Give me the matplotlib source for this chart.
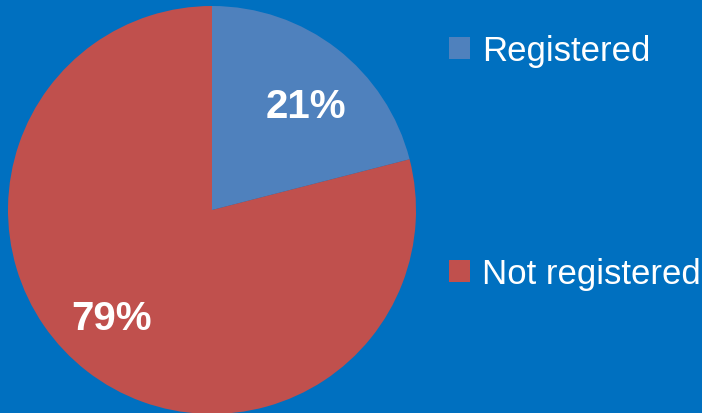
import matplotlib.pyplot as plt
from matplotlib import font_manager

# ---------------- Data ----------------
labels = ["Registered", "Not registered"]
shares = [21, 79]
colors = ["#4F81BD", "#C0504D"]
bg = "#0070C0"

names = {f.name for f in font_manager.fontManager.ttflist}
font = "Liberation Sans Narrow" if "Liberation Sans Narrow" in names else "Liberation Sans"
plt.rcParams["font.family"] = [font, "DejaVu Sans"]

fig = plt.figure(figsize=(7.02, 4.14), dpi=100, facecolor=bg)
# pie centre at (212, 211) px, radius ~204 px
ax = fig.add_axes([8 / 702, -1 / 414, 408 / 702, 408 / 414])
ax.set_facecolor(bg)

wedges, texts, autotexts = ax.pie(
    shares, colors=colors, startangle=90, counterclock=False,
    autopct="%d%%", pctdistance=0.71, radius=1,
    wedgeprops=dict(linewidth=0),
    textprops=dict(color="white", fontsize=29, fontweight="bold"),
)
for w in wedges:
    w.set_clip_on(False)
autotexts[0].set_position((0.46, 0.51))
autotexts[1].set_position((-0.49, -0.53))
ax.set_xlim(-1, 1)
ax.set_ylim(-1, 1)
ax.axis("off")

leg = fig.legend(
    wedges, labels, loc="upper left", bbox_to_anchor=(449 / 702, 1 - 35 / 414),
    frameon=False, fontsize=25, labelcolor="white",
    handlelength=0.6, handleheight=0.6, handletextpad=0.35,
    labelspacing=5.47, borderpad=0, borderaxespad=0,
)

fig.savefig("out.png", dpi=100, facecolor=bg)
